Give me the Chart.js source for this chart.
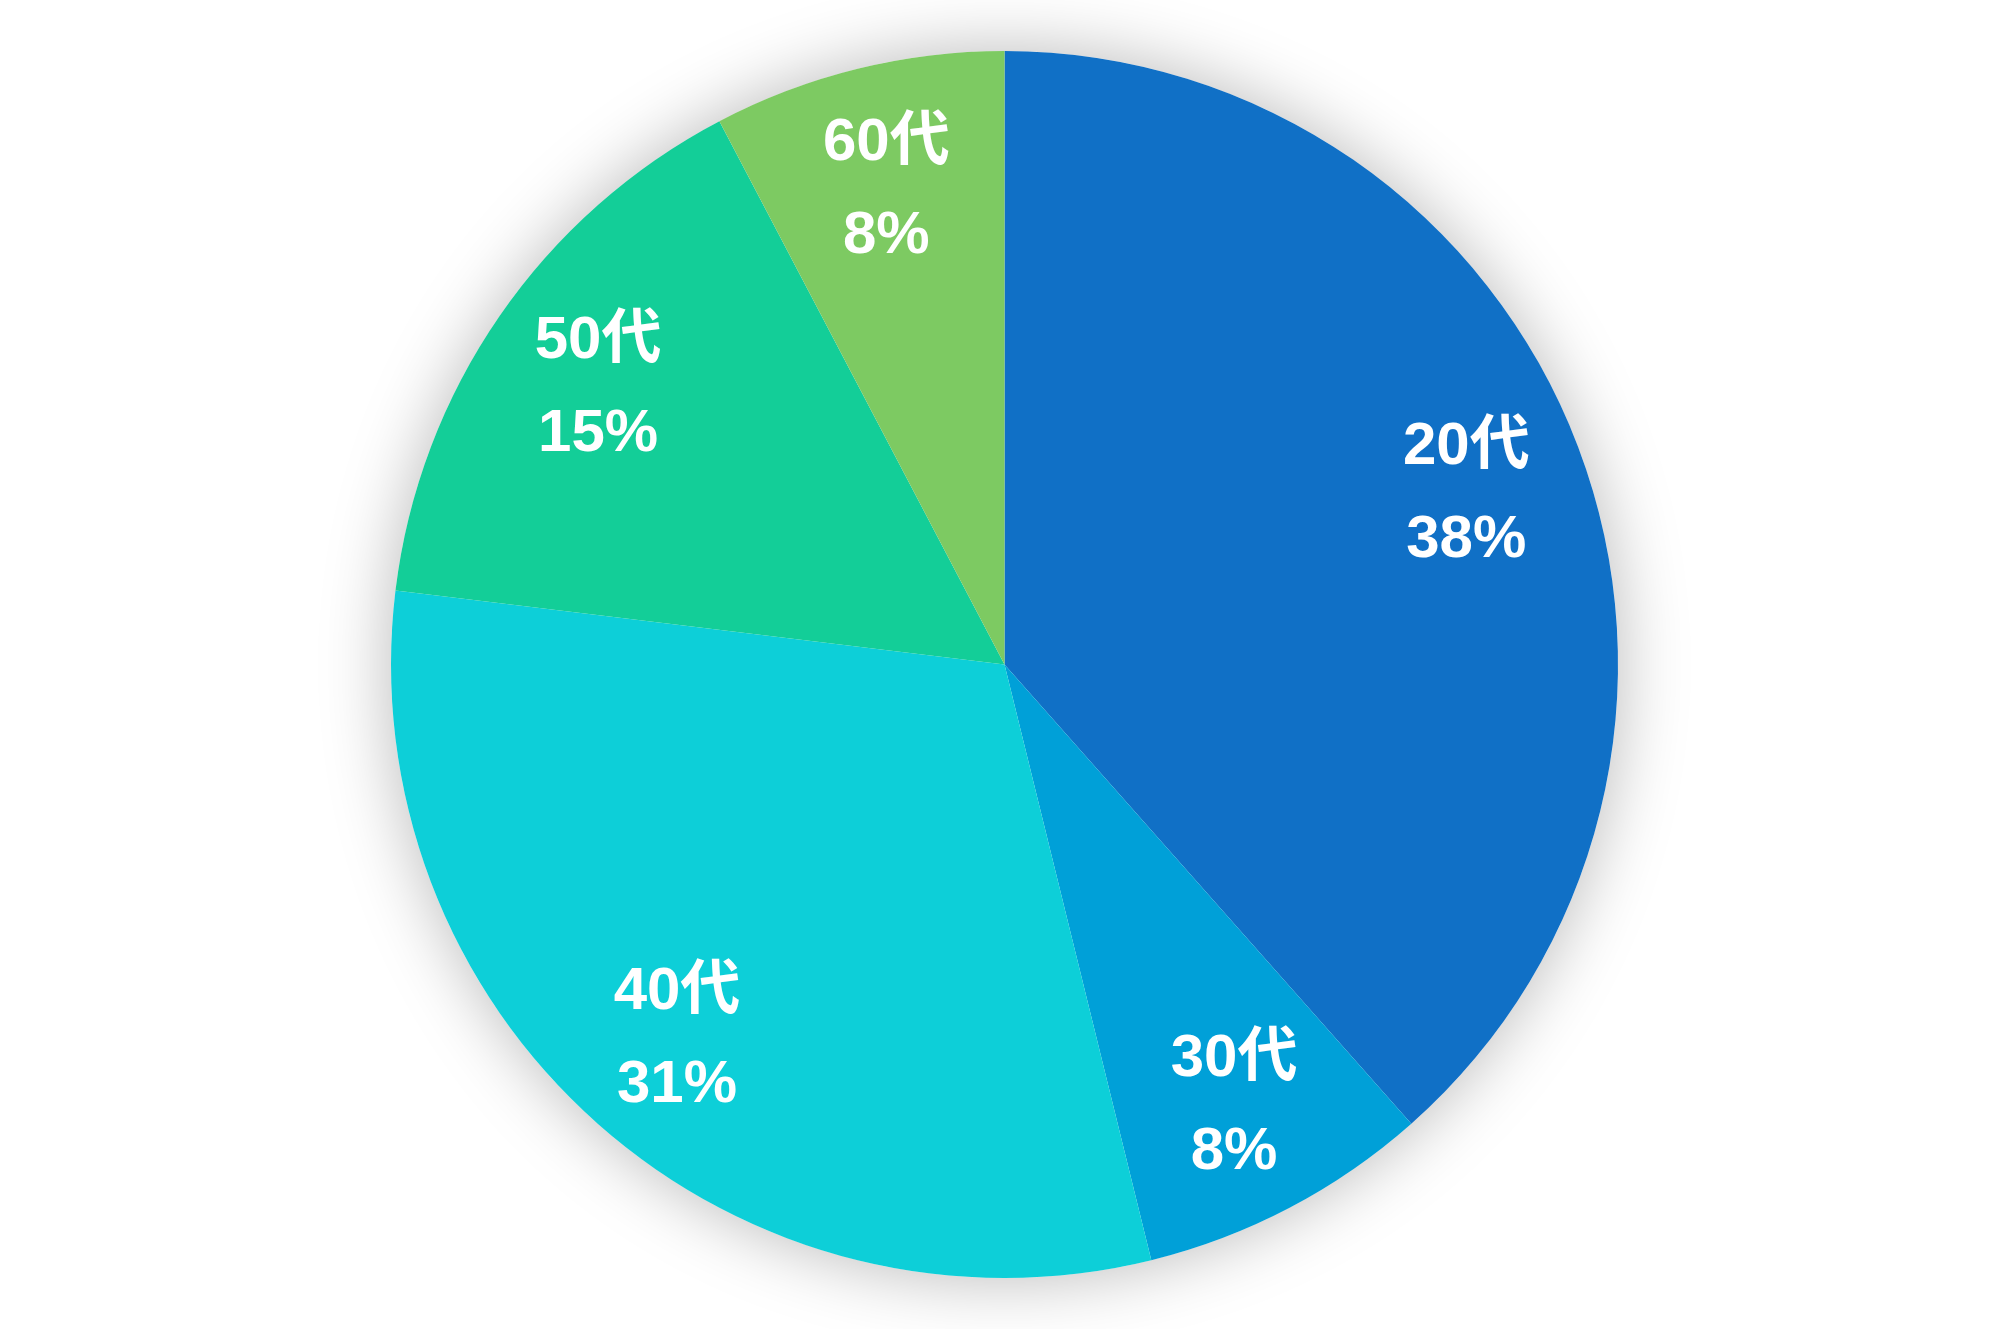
<!DOCTYPE html>
<html>
<head>
<meta charset="utf-8">
<script src="https://cdn.jsdelivr.net/npm/chart.js@4"></script>
<style>
  html, body { margin: 0; padding: 0; background: #fff; }
  #wrap { width: 2009px; height: 1329px; }
</style>
</head>
<body>
<div id="wrap"><canvas id="age-pie"></canvas></div>
<script>
const labels = ["20代", "30代", "40代", "50代", "60代"];
const counts = [5, 1, 4, 2, 1];
const colors = ["#1070c6", "#00a0d8", "#0dcfd8", "#13ce98", "#7dca62"];

// soft grey shadow drawn under the whole pie
const pieShadow = {
  id: "pieShadow",
  beforeDatasetsDraw(chart) {
    const arc = chart.getDatasetMeta(0).data[0];
    if (!arc) return;
    const ctx = chart.ctx;
    ctx.save();
    ctx.shadowColor = "rgba(0, 0, 0, 0.28)";
    ctx.shadowBlur = 70;
    ctx.fillStyle = "#fff";
    ctx.beginPath();
    ctx.arc(arc.x, arc.y, arc.outerRadius, 0, Math.PI * 2);
    ctx.fill();
    ctx.restore();
  },
};

// name + percent inside each slice
const sliceLabels = {
  id: "sliceLabels",
  afterDatasetsDraw(chart) {
    const ctx = chart.ctx;
    const data = chart.data.datasets[0].data;
    const total = data.reduce((a, b) => a + b, 0);
    chart.getDatasetMeta(0).data.forEach((arc, i) => {
      const mid = (arc.startAngle + arc.endAngle) / 2;
      const r = arc.outerRadius * 0.805;
      const x = arc.x + Math.cos(mid) * r;
      const y = arc.y + Math.sin(mid) * r + 4;
      ctx.save();
      ctx.fillStyle = "#fff";
      ctx.textAlign = "center";
      ctx.textBaseline = "middle";
      ctx.font = "bold 60px 'Liberation Sans', 'Noto Sans CJK JP', sans-serif";
      ctx.fillText(chart.data.labels[i], x, y - 46);
      ctx.fillText(Math.round((data[i] / total) * 100) + "%", x, y + 47);
      ctx.restore();
    });
  },
};

new Chart(document.getElementById("age-pie"), {
  type: "pie",
  data: {
    labels: labels,
    datasets: [
      {
        data: counts,
        backgroundColor: colors,
        borderWidth: 0,
      },
    ],
  },
  options: {
    responsive: true,
    maintainAspectRatio: false,
    animation: false,
    layout: { padding: 51 },
    plugins: {
      legend: { display: false },
      tooltip: { enabled: false },
    },
  },
  plugins: [pieShadow, sliceLabels],
});
</script>
</body>
</html>
